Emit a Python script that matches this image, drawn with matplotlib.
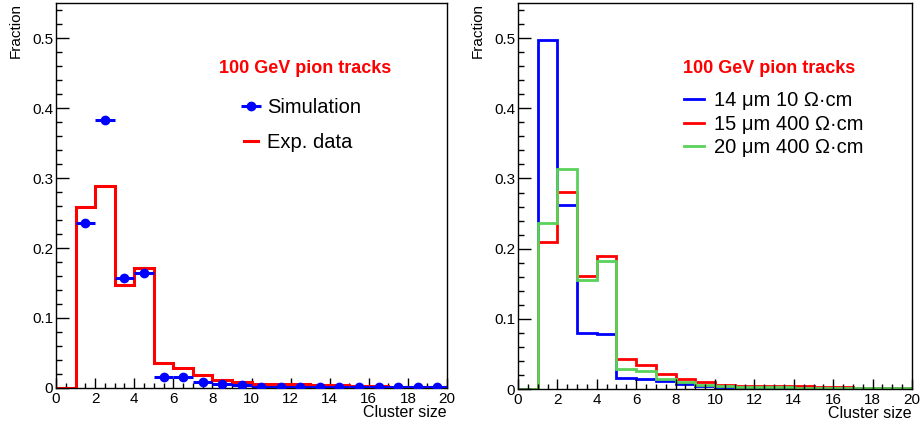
import numpy as np
import matplotlib.pyplot as plt
from matplotlib.ticker import MultipleLocator, FuncFormatter

plt.rcParams['font.family'] = ['Liberation Sans', 'DejaVu Sans']

# cluster size bins 0..20
edges = np.arange(0, 21)
centers = edges[:-1] + 0.5

# left panel: 100 GeV pions, simulation vs data
exp_data = [0.0, 0.259, 0.289, 0.147, 0.171, 0.035, 0.029, 0.018, 0.012, 0.008,
            0.006, 0.005, 0.005, 0.004, 0.004, 0.003, 0.003, 0.002, 0.002, 0.002]
simulation = [np.nan, 0.236, 0.383, 0.157, 0.165, 0.016, 0.015, 0.009, 0.005, 0.004,
              0.002, 0.001, 0.001, 0.001, 0.001, 0.001, 0.001, 0.001, 0.001, 0.001]

# right panel: different epi thickness / resistivity
sensor_labels = ['14 μm 10 Ω·cm', '15 μm 400 Ω·cm', '20 μm 400 Ω·cm']
sensor_14_10 = [0.0, 0.497, 0.262, 0.080, 0.078, 0.015, 0.014, 0.011, 0.007, 0.005,
                0.003, 0.002, 0.002, 0.002, 0.001, 0.001, 0.001, 0.001, 0.001, 0.001]
sensor_15_400 = [0.0, 0.210, 0.281, 0.161, 0.189, 0.043, 0.034, 0.021, 0.014, 0.010,
                 0.006, 0.005, 0.005, 0.004, 0.004, 0.003, 0.003, 0.002, 0.002, 0.001]
sensor_20_400 = [0.0, 0.236, 0.314, 0.155, 0.183, 0.028, 0.026, 0.014, 0.010, 0.006,
                 0.004, 0.003, 0.003, 0.003, 0.002, 0.001, 0.001, 0.001, 0.001, 0.001]

green = '#5ad25a'

fig = plt.figure(figsize=(9.23, 4.32), dpi=100)
ax1 = fig.add_axes([0.0607, 0.1019, 0.4236, 0.891])
ax2 = fig.add_axes([0.5612, 0.0995, 0.4269, 0.8935])


def style_axis(ax):
    ax.set_xlim(0, 20)
    ax.set_ylim(0, 0.55)
    ax.xaxis.set_major_locator(MultipleLocator(2))
    ax.xaxis.set_minor_locator(MultipleLocator(0.5))
    ax.yaxis.set_major_locator(MultipleLocator(0.1))
    ax.yaxis.set_minor_locator(MultipleLocator(0.02))
    ax.yaxis.set_major_formatter(FuncFormatter(lambda v, p: '0' if abs(v) < 1e-9 else '%.1f' % v))
    ax.tick_params(which='both', direction='in', top=False, right=False, labelsize=11, colors='black')
    ax.tick_params(axis='y', which='major', length=9, width=1, pad=2)
    ax.tick_params(axis='y', which='minor', length=4.5, width=1)
    ax.tick_params(axis='x', which='major', length=7, width=1, pad=3)
    ax.tick_params(axis='x', which='minor', length=3.6, width=1)
    for s in ax.spines.values():
        s.set_linewidth(1)
    ax.set_ylabel('Fraction', loc='top', fontsize=11)
    ax.set_xlabel('Cluster size', loc='right', fontsize=11.5)
    ax.yaxis.set_label_coords(-0.085, 1.0)
    ax.xaxis.set_label_coords(1.0, -0.045)
    ax.text(0.637, 0.83, '100 GeV pion tracks', color='red', fontsize=13, fontweight='bold',
            ha='center', va='center', transform=ax.transAxes)


# left panel
style_axis(ax1)
ax1.stairs(exp_data, edges, color='red', lw=2.2, baseline=None, label='Exp. data', zorder=2)
ax1.errorbar(centers, simulation, xerr=0.5, fmt='o', color='blue', ms=6,
             elinewidth=2.2, capsize=0, label='Simulation', zorder=3)
h, l = ax1.get_legend_handles_labels()
ax1.legend([h[1], h[0]], [l[1], l[0]], loc='upper left', bbox_to_anchor=(0.46, 0.775),
           frameon=False, fontsize=14.5, handlelength=0.7, handletextpad=0.45,
           labelspacing=0.8, borderaxespad=0)

# right panel
style_axis(ax2)
ax2.stairs(sensor_14_10, edges, color='blue', lw=2, baseline=None, label=sensor_labels[0])
ax2.stairs(sensor_15_400, edges, color='red', lw=2, baseline=None, label=sensor_labels[1])
ax2.stairs(sensor_20_400, edges, color=green, lw=2, baseline=None, label=sensor_labels[2])
ax2.legend(loc='upper left', bbox_to_anchor=(0.4, 0.792), frameon=False, fontsize=14.5,
           handlelength=1.0, handletextpad=0.5, labelspacing=0.22, borderaxespad=0)
ax2.yaxis.set_label_coords(-0.085, 1.0)

fig.savefig('out.png', dpi=100)
